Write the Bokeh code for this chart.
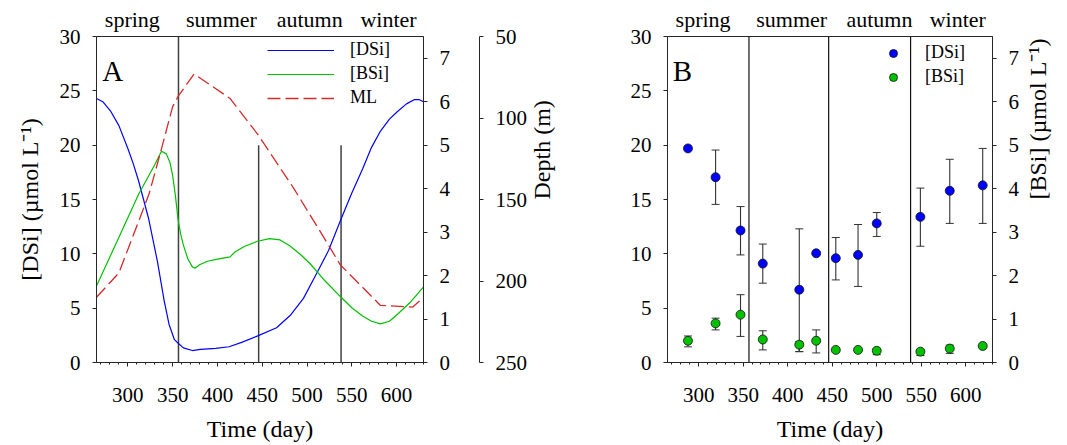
import math
from bokeh.plotting import figure
from bokeh.models import (Range1d, LinearAxis, ColumnDataSource, Whisker, TeeHead,
                          Legend, LegendItem, Label, FixedTicker)
from bokeh.layouts import row
from bokeh.embed import file_html
from bokeh.resources import INLINE

FONT = "Liberation Serif"
AXC = "#262626"

# ---------------- data: panel A (model curves) ----------------
a_dsi_day = [265, 272, 281, 290, 300, 306, 312, 323, 333, 340.5, 346, 352, 356.5, 362, 372, 381,
             398, 413, 427, 445, 466, 482, 496, 512, 524, 538, 550, 562, 572, 582, 592, 601,
             611, 620, 625, 630]
a_dsi_val = [24.3, 24.0, 23.1, 21.8, 19.7, 18.3, 16.7, 13.3, 9.3, 5.7, 3.5, 2.1, 1.75, 1.35, 1.1,
             1.2, 1.3, 1.45, 1.85, 2.45, 3.2, 4.4, 5.9, 8.4, 10.3, 13.2, 15.6, 17.8, 19.8, 21.3,
             22.4, 23.1, 23.8, 24.2, 24.2, 24.0]

a_bsi_day = [265, 288, 312, 330, 337.5, 343, 347, 350, 353, 356, 359, 362, 367, 372, 375,
             380, 389, 400, 414, 420, 430, 445, 458, 470, 481, 493, 504, 520, 538, 550,
             562, 572, 582, 592, 601, 615, 630]
a_bsi_val = [1.76, 2.79, 3.87, 4.55, 4.86, 4.8, 4.6, 4.3, 3.85, 3.3, 2.95, 2.7, 2.38, 2.2, 2.17,
             2.25, 2.33, 2.38, 2.43, 2.55, 2.67, 2.79, 2.85, 2.82, 2.68, 2.48, 2.26, 1.88, 1.5, 1.26,
             1.07, 0.95, 0.89, 0.95, 1.11, 1.38, 1.74]

a_ml_day = [265, 290, 313, 324, 337, 350, 357, 374, 414, 445, 485, 524, 537, 582, 618, 630]
a_ml_depth = [210, 195, 162, 146, 120, 93, 86, 73, 88, 110, 143, 178, 190, 215, 216, 210]

# ---------------- data: panel B (observations) ----------------
b_day = [288, 319, 347, 372, 413, 432, 454, 479, 500, 549, 582, 619]
b_dsi = [19.7, 17.05, 12.15, 9.1, 6.7, 10.05, 9.6, 9.9, 12.8, 13.4, 15.8, 16.3]
b_dsi_lo = [19.7, 14.55, 9.9, 7.3, 1.0, 10.05, 7.6, 7.0, 11.6, 10.7, 12.8, 12.8]
b_dsi_hi = [19.7, 19.55, 14.35, 10.9, 12.3, 10.05, 11.5, 12.7, 13.8, 16.05, 18.7, 19.7]
b_bsi = [0.50, 0.90, 1.10, 0.53, 0.41, 0.50, 0.29, 0.29, 0.27, 0.25, 0.32, 0.38]
b_bsi_lo = [0.36, 0.75, 0.60, 0.29, 0.25, 0.22, 0.29, 0.29, 0.18, 0.16, 0.21, 0.38]
b_bsi_hi = [0.61, 1.02, 1.56, 0.73, 0.48, 0.75, 0.29, 0.29, 0.31, 0.30, 0.40, 0.38]

# ---------------- seasons / ticks ----------------
seasons = ["spring", "summer", "autumn", "winter"]
season_label_day = [305, 404.5, 503, 591]
season_bounds = [356.5, 446, 538]
a_bound_tops = [30, 20, 20]
x_ticks = [300, 350, 400, 450, 500, 550, 600]
x_minor = list(range(270, 631, 10))
left_ticks = [0, 5, 10, 15, 20, 25, 30]
right_ticks = [0, 1, 2, 3, 4, 5, 6, 7]
depth_ticks = [50, 100, 150, 200, 250]


def style_axis(ax, size="21px"):
    ax.axis_line_color = AXC
    ax.major_tick_line_color = AXC
    ax.minor_tick_line_color = AXC
    ax.major_tick_out = 4
    ax.major_tick_in = 0
    ax.minor_tick_out = 2
    ax.minor_tick_in = 0
    ax.major_label_text_font = FONT
    ax.major_label_text_font_size = size
    ax.major_label_text_color = "black"
    ax.axis_label_text_font = FONT
    ax.axis_label_text_font_size = "24px"
    ax.axis_label_text_font_style = "normal"
    ax.axis_label_text_color = "black"


def base_fig(width, bl, br):
    p = figure(width=width, height=445, x_range=Range1d(265, 630), y_range=Range1d(0, 30),
               output_backend="svg", toolbar_location=None,
               min_border_left=bl, min_border_right=br, min_border_top=36, min_border_bottom=83)
    p.grid.visible = False
    p.outline_line_color = AXC
    p.background_fill_color = "white"
    p.border_fill_color = "white"
    p.xaxis.ticker = FixedTicker(ticks=x_ticks, minor_ticks=x_minor)
    p.yaxis.ticker = FixedTicker(ticks=left_ticks)
    p.xaxis.axis_label = "Time (day)"
    for ax in p.xaxis + p.yaxis:
        style_axis(ax)
    p.yaxis.minor_tick_line_color = None
    p.xaxis.major_label_standoff = 21
    p.xaxis.axis_label_standoff = 11
    p.yaxis.major_label_standoff = 12
    # season names as a tick-label-only axis above the frame
    top = LinearAxis(ticker=FixedTicker(ticks=season_label_day),
                     major_label_overrides=dict(zip(season_label_day, seasons)))
    top.axis_line_color = None
    top.major_tick_line_color = None
    top.minor_tick_line_color = None
    top.major_tick_out = 0
    top.major_label_standoff = 5
    top.major_label_text_font = FONT
    top.major_label_text_font_size = "22px"
    top.major_label_text_color = "black"
    p.add_layout(top, "above")
    return p


def style_legend(leg):
    leg.glyph_height = 20
    leg.label_height = 20
    leg.spacing = 3
    leg.padding = 0
    leg.margin = 0
    leg.border_line_alpha = 0
    leg.background_fill_alpha = 0
    leg.label_text_font = FONT
    leg.label_text_font_size = "18px"
    leg.label_text_color = "black"


# ================= Panel A =================
pa = base_fig(572, 96, 149)
pa.extra_y_ranges = {"bsi": Range1d(0, 7.5), "depth": Range1d(250, 50)}
pa.yaxis.axis_label = "[DSi] (\u00b5mol L\u207b\u00b9)"
pa.yaxis.axis_label_standoff = 14

ax_in = LinearAxis(y_range_name="bsi", ticker=FixedTicker(ticks=right_ticks), axis_label=" ")
style_axis(ax_in)
ax_in.major_label_standoff = 12
ax_in.axis_label_standoff = 22
ax_in.axis_label_text_font_size = "1px"
pa.add_layout(ax_in, "right")

ax_dep = LinearAxis(y_range_name="depth", ticker=FixedTicker(ticks=depth_ticks), axis_label="Depth (m)")
style_axis(ax_dep)
ax_dep.major_label_standoff = 12
ax_dep.axis_label_standoff = 12
try:
    ax_dep.axis_label_orientation = math.pi / 2
except Exception:
    pass
pa.add_layout(ax_dep, "right")

pa.segment(x0=season_bounds, y0=[0, 0, 0], x1=season_bounds, y1=a_bound_tops,
           line_color="#404040", line_width=1.5)

r_dsi = pa.line(a_dsi_day, a_dsi_val, line_color="#0000ff", line_width=1.2)
r_bsi = pa.line(a_bsi_day, a_bsi_val, line_color="#00c000", line_width=1.2, y_range_name="bsi")
r_ml = pa.line(a_ml_day, a_ml_depth, line_color="#d42a2a", line_width=1.3, line_dash="13 5",
               y_range_name="depth")

pa.add_layout(Label(x=271.5, y=26.84, text="A", text_font=FONT, text_font_size="29px",
                    text_baseline="alphabetic", text_color="black"))

leg_a = Legend(items=[LegendItem(label="[DSi]", renderers=[r_dsi]),
                      LegendItem(label="[BSi]", renderers=[r_bsi]),
                      LegendItem(label="ML", renderers=[r_ml])],
               location=(171, 254), orientation="vertical")
style_legend(leg_a)
leg_a.glyph_width = 67
leg_a.label_standoff = 16
pa.add_layout(leg_a)

# ================= Panel B =================
pb = base_fig(495, 95, 73)
pb.extra_y_ranges = {"bsi": Range1d(0, 7.5)}
ax_b = LinearAxis(y_range_name="bsi", ticker=FixedTicker(ticks=right_ticks),
                  axis_label="[BSi] (\u00b5mol L\u207b\u00b9)")
style_axis(ax_b)
ax_b.major_label_standoff = 12
ax_b.axis_label_standoff = 16
try:
    ax_b.axis_label_orientation = math.pi / 2
except Exception:
    pass
pb.add_layout(ax_b, "right")

pb.segment(x0=season_bounds, y0=[0, 0, 0], x1=season_bounds, y1=[30, 30, 30],
           line_color="#111111", line_width=1.2)

idx_d = [i for i in range(len(b_day)) if b_dsi_hi[i] > b_dsi_lo[i]]
src_dw = ColumnDataSource(dict(x=[b_day[i] for i in idx_d], lo=[b_dsi_lo[i] for i in idx_d],
                               hi=[b_dsi_hi[i] for i in idx_d]))
idx_b = [i for i in range(len(b_day)) if b_bsi_hi[i] > b_bsi_lo[i]]
src_bw = ColumnDataSource(dict(x=[b_day[i] for i in idx_b], lo=[b_bsi_lo[i] for i in idx_b],
                               hi=[b_bsi_hi[i] for i in idx_b]))


def head():
    return TeeHead(size=8, line_color="#333333", line_width=1)


w1 = Whisker(source=src_dw, base="x", lower="lo", upper="hi", line_color="#333333", line_width=1.1,
             upper_head=head(), lower_head=head())
w2 = Whisker(source=src_bw, base="x", lower="lo", upper="hi", line_color="#333333", line_width=1.1,
             upper_head=head(), lower_head=head(), y_range_name="bsi")
pb.add_layout(w1)
pb.add_layout(w2)

rb_dsi = pb.scatter(b_day, b_dsi, marker="circle", size=9, fill_color="#0000ff",
                    line_color="#111111", line_width=0.8)
rb_bsi = pb.scatter(b_day, b_bsi, marker="circle", size=9, fill_color="#00c000",
                    line_color="#111111", line_width=0.8, y_range_name="bsi")

pb.add_layout(Label(x=271, y=26.84, text="B", text_font=FONT, text_font_size="29px",
                    text_baseline="alphabetic", text_color="black"))

leg_b = Legend(items=[LegendItem(label="[DSi]", renderers=[rb_dsi]),
                      LegendItem(label="[BSi]", renderers=[rb_bsi])],
               location=(216, 275), orientation="vertical")
style_legend(leg_b)
leg_b.glyph_width = 20
leg_b.label_standoff = 22
pb.add_layout(leg_b)

layout = row(pa, pb, spacing=0)
open("out.html", "w").write(file_html(layout, INLINE))
